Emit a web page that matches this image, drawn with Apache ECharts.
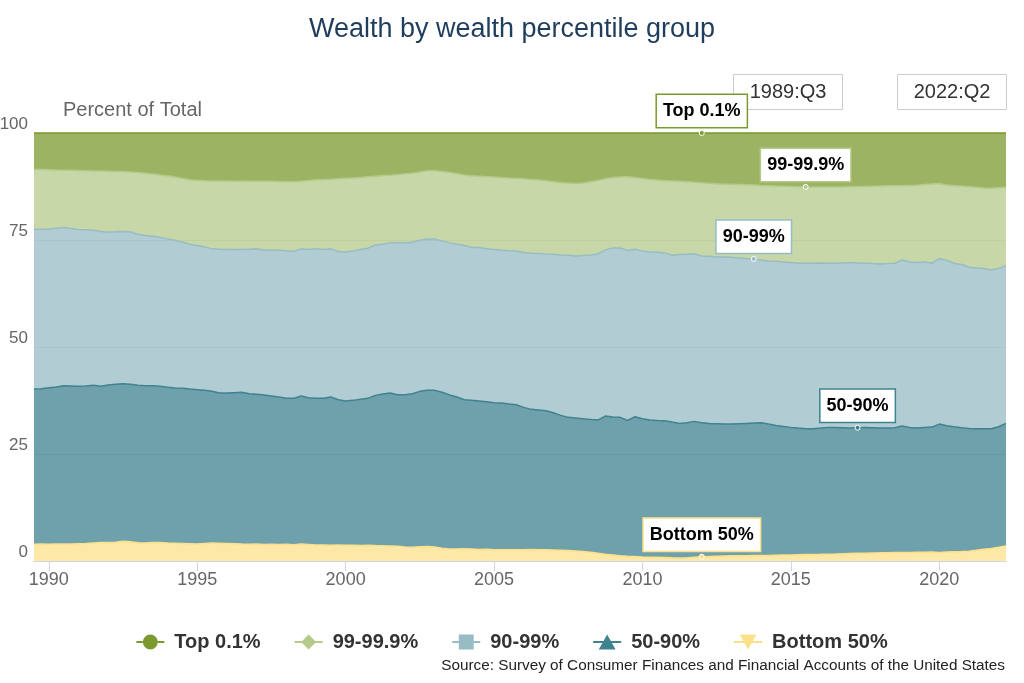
<!DOCTYPE html>
<html>
<head>
<meta charset="utf-8">
<script src="https://cdn.jsdelivr.net/npm/echarts@6.0.0/dist/echarts.min.js"></script>
<style>html,body{margin:0;padding:0;background:#fff}#c{width:1024px;height:683px}</style>
</head>
<body>
<div id="c"></div>
<script>
// Quarterly categories 1989:Q3 .. 2022:Q2
const quarters = [];
for (let y = 1989; y <= 2022; y++) {
  for (let q = 1; q <= 4; q++) {
    if ((y === 1989 && q < 3) || (y === 2022 && q > 2)) continue;
    quarters.push(y + ':Q' + q);
  }
}

const bottom50 = [
  3.9, 3.95, 3.9, 3.95, 4.0, 4.0, 4.05, 4.1, 4.2, 4.3,
  4.35, 4.4, 4.6, 4.5, 4.25, 4.2, 4.3, 4.3, 4.2, 4.15,
  4.1, 4.05, 4.0, 4.1, 4.2, 4.15, 4.1, 4.05, 3.95, 3.9,
  3.95, 3.85, 3.9, 3.85, 3.9, 3.8, 3.95, 3.85, 3.75, 3.75,
  3.7, 3.75, 3.7, 3.7, 3.65, 3.7, 3.6, 3.55, 3.5, 3.45,
  3.3, 3.2, 3.35, 3.4, 3.3, 3.0, 2.8, 2.8, 2.85, 2.8,
  2.7, 2.75, 2.65, 2.6, 2.6, 2.65, 2.65, 2.7, 2.65, 2.6,
  2.55, 2.5, 2.45, 2.35, 2.2, 2.05, 1.8, 1.55, 1.4, 1.2,
  1.1, 1.05, 0.95, 0.9, 0.85, 0.8, 0.75, 0.72, 0.75, 0.9,
  1.0, 1.05, 1.1, 1.15, 1.2, 1.2, 1.25, 1.28, 1.3, 1.3,
  1.35, 1.38, 1.4, 1.45, 1.5, 1.52, 1.55, 1.6, 1.62, 1.7,
  1.75, 1.8, 1.83, 1.88, 1.9, 1.95, 1.98, 2.0, 2.0, 2.05,
  2.05, 2.08, 2.0, 2.1, 2.15, 2.2, 2.3, 2.5, 2.75, 2.95,
  3.2, 3.5
];

const p50to90 = [
  36.28, 36.31, 36.60, 36.70, 36.96, 36.89, 36.76, 36.79, 36.84, 36.51,
  36.77, 36.88, 36.83, 36.78, 36.79, 36.76, 36.66, 36.51, 36.37, 36.27,
  36.24, 36.13, 36.03, 35.77, 35.44, 35.10, 35.15, 35.28, 35.46, 35.19,
  34.99, 34.93, 34.65, 34.46, 34.10, 34.20, 34.60, 34.31, 34.25, 34.25,
  34.61, 33.94, 33.68, 33.83, 34.12, 34.30, 35.10, 35.47, 35.75, 35.41,
  35.56, 35.89, 36.29, 36.47, 36.57, 36.41, 35.98, 35.51, 34.84, 34.73,
  34.68, 34.47, 34.34, 34.31, 34.08, 33.87, 33.24, 32.73, 32.62, 32.51,
  32.10, 31.52, 31.11, 31.05, 31.04, 31.04, 31.13, 32.32, 32.23, 32.36,
  31.75, 32.66, 32.29, 32.03, 32.00, 31.98, 31.71, 31.43, 31.56, 31.72,
  31.31, 31.10, 30.97, 30.84, 30.79, 30.87, 30.90, 30.95, 31.01, 30.69,
  30.33, 30.07, 29.82, 29.61, 29.41, 29.39, 29.51, 29.62, 29.60, 29.44,
  29.31, 29.34, 29.39, 29.26, 29.16, 29.11, 29.16, 29.53, 29.22, 29.01,
  29.17, 29.21, 29.99, 29.51, 29.22, 28.94, 28.68, 28.41, 28.16, 27.96,
  28.17, 28.65
];

const p90to99 = [
  37.27, 37.27, 37.03, 37.11, 36.96, 36.79, 36.64, 36.48, 36.25, 36.17,
  35.70, 35.62, 35.55, 35.62, 35.32, 35.08, 34.93, 34.77, 34.69, 34.53,
  34.15, 33.84, 33.68, 33.52, 33.29, 33.60, 33.52, 33.44, 33.36, 33.76,
  33.99, 33.83, 34.06, 34.30, 34.46, 34.30, 34.38, 34.61, 34.93, 34.77,
  34.62, 34.61, 34.77, 34.93, 35.00, 35.08, 35.16, 35.00, 35.08, 35.47,
  35.47, 35.40, 35.31, 35.39, 35.39, 35.39, 35.55, 35.71, 36.02, 35.71,
  35.86, 35.71, 35.78, 35.70, 35.78, 35.93, 36.18, 36.48, 36.56, 36.64,
  37.03, 37.50, 37.88, 37.89, 38.13, 38.43, 38.82, 38.82, 39.53, 39.60,
  39.68, 39.14, 39.22, 39.29, 39.29, 39.21, 38.98, 39.45, 39.37, 39.13,
  38.98, 39.06, 38.98, 39.06, 38.99, 38.75, 38.51, 38.36, 38.04, 38.13,
  38.36, 38.43, 38.51, 38.51, 38.66, 38.66, 38.59, 38.35, 38.35, 38.51,
  38.67, 38.51, 38.35, 38.35, 38.36, 38.43, 38.43, 38.82, 38.66, 38.67,
  38.66, 38.28, 38.67, 38.59, 38.20, 38.12, 37.66, 37.57, 37.41, 37.10,
  36.95, 36.80
];

const p99to999 = [
  14.05, 13.92, 13.87, 13.59, 13.38, 13.62, 13.80, 13.83, 13.86, 14.12,
  14.23, 14.10, 14.02, 14.00, 14.39, 14.56, 14.51, 14.62, 14.74, 14.75,
  14.91, 15.08, 15.24, 15.46, 15.87, 15.95, 16.03, 15.98, 16.03, 15.90,
  15.82, 16.09, 16.09, 16.04, 16.14, 16.30, 15.82, 16.13, 16.17, 16.33,
  16.27, 17.00, 17.25, 17.04, 16.83, 16.67, 16.04, 16.03, 15.82, 15.97,
  16.12, 16.11, 15.95, 15.94, 15.99, 16.20, 16.47, 16.48, 16.49, 16.76,
  16.66, 16.87, 16.93, 16.99, 17.04, 17.00, 17.23, 17.24, 17.17, 17.10,
  16.92, 16.88, 16.86, 16.91, 16.93, 17.08, 17.15, 16.61, 16.44, 16.54,
  17.27, 16.75, 16.89, 16.93, 16.86, 16.86, 17.36, 17.10, 16.92, 16.75,
  17.11, 17.04, 17.10, 17.00, 17.02, 17.13, 17.24, 17.26, 17.40, 17.58,
  17.56, 17.67, 17.77, 17.88, 17.83, 17.83, 17.75, 17.83, 17.83, 17.75,
  17.72, 17.85, 17.93, 18.06, 18.18, 18.16, 18.13, 17.35, 17.87, 18.07,
  18.07, 18.53, 17.54, 17.65, 18.13, 18.34, 18.81, 18.82, 18.83, 19.09,
  18.88, 18.35
];

const top01 = [
  8.5, 8.55, 8.6, 8.65, 8.7, 8.7, 8.75, 8.8, 8.85, 8.9,
  8.95, 9.0, 9.0, 9.1, 9.25, 9.4, 9.6, 9.8, 10.0, 10.3,
  10.6, 10.9, 11.05, 11.15, 11.2, 11.2, 11.2, 11.25, 11.2, 11.25,
  11.25, 11.3, 11.3, 11.35, 11.4, 11.4, 11.25, 11.1, 10.9, 10.9,
  10.8, 10.7, 10.6, 10.5, 10.4, 10.25, 10.1, 9.95, 9.85, 9.7,
  9.55, 9.4, 9.1, 8.8, 8.75, 9.0, 9.2, 9.5, 9.8, 10.0,
  10.1, 10.2, 10.3, 10.4, 10.5, 10.55, 10.7, 10.85, 11.0, 11.15,
  11.4, 11.6, 11.7, 11.8, 11.7, 11.4, 11.1, 10.7, 10.4, 10.3,
  10.2, 10.4, 10.65, 10.85, 11.0, 11.15, 11.2, 11.3, 11.4, 11.5,
  11.6, 11.75, 11.85, 11.95, 12.0, 12.05, 12.1, 12.15, 12.25, 12.3,
  12.4, 12.45, 12.5, 12.55, 12.6, 12.6, 12.6, 12.6, 12.6, 12.6,
  12.55, 12.5, 12.5, 12.45, 12.4, 12.35, 12.3, 12.3, 12.25, 12.2,
  12.05, 11.9, 11.8, 12.15, 12.3, 12.4, 12.55, 12.7, 12.85, 12.9,
  12.8, 12.7
];

// Stack order (bottom -> top)
const seriesNames = ['Bottom 50%', '50-90%', '90-99%', '99-99.9%', 'Top 0.1%'];
const seriesValues = [bottom50, p50to90, p90to99, p99to999, top01];
const seriesColors = ['#fde08a', '#3f8290', '#97bcc4', '#b4c98a', '#7a9a2e'];
const calloutAt = ['2012:Q1', '2017:Q2', '2013:Q4', '2015:Q3', '2012:Q1'];
const legendOrder = ['Top 0.1%', '99-99.9%', '90-99%', '50-90%', 'Bottom 50%'];
const yTicks = { min: 0, max: 100, step: 25 };
const titleText = 'Wealth by wealth percentile group';
const yTitle = 'Percent of Total';
const sourceText = 'Source: Survey of Consumer Finances and Financial Accounts of the United States';

const FONT = '"Liberation Sans", Arial, Helvetica, sans-serif';
const legendIcons = {
  'Top 0.1%': 'path://M0,9H7V11H0Z M23,9H30V11H23Z M7,10A8,8 0 1 1 23,10A8,8 0 1 1 7,10Z',
  '99-99.9%': 'path://M0,9H8V11H0Z M22,9H30V11H22Z M15,2L23,10L15,18L7,10Z',
  '90-99%': 'path://M0,9H7V11H0Z M23,9H30V11H23Z M7,2H23V18H7Z',
  '50-90%': 'path://M0,9H11V11H0Z M19,9H30V11H19Z M15,2L24,18L6,18Z',
  'Bottom 50%': 'path://M0,9H11V11H0Z M19,9H30V11H19Z M6,2L24,2L15,18Z'
};

const isFiveYear = (idx, val) => val.endsWith(':Q1') && (+val.slice(0, 4)) % 5 === 0;

const chart = echarts.init(document.getElementById('c'), null, { renderer: 'canvas' });

const option = {
  animation: false,
  backgroundColor: '#fff',
  textStyle: { fontFamily: FONT },
  title: {
    text: titleText, left: 'center', top: 11,
    textStyle: { color: '#1f3d5c', fontSize: 27, fontWeight: 'normal', fontFamily: FONT }
  },
  grid: { left: 34, right: 18, top: 133, bottom: 122, containLabel: false, outerBoundsMode: 'none' },
  legend: {
    left: 'center', top: 627, itemWidth: 28, itemHeight: 16, itemGap: 34,
    selectedMode: false,
    textStyle: { fontSize: 20, fontWeight: 'bold', color: '#333', fontFamily: FONT, padding: [0, 0, 0, 5] },
    data: legendOrder.map(n => ({ name: n, icon: legendIcons[n] }))
  },
  xAxis: {
    type: 'category', data: quarters, boundaryGap: false,
    axisLine: { show: true, lineStyle: { color: '#ccd6eb', width: 1 } },
    axisTick: { show: true, length: 10, interval: isFiveYear, lineStyle: { color: '#ccd6eb', width: 1 } },
    axisLabel: { interval: isFiveYear, formatter: v => v.slice(0, 4), color: '#666', fontSize: 18, margin: 10, fontFamily: FONT },
    splitLine: { show: false }
  },
  yAxis: {
    type: 'value', min: yTicks.min, max: yTicks.max, interval: yTicks.step,
    axisLine: { show: false }, axisTick: { show: false },
    axisLabel: { color: '#666', fontSize: 17, margin: 6, verticalAlign: 'bottom', fontFamily: FONT },
    splitLine: { show: true, lineStyle: { color: '#e0e0e0', width: 1 } }
  },
  graphic: [
    { type: 'text', z: 0, x: 63, y: 110, style: { text: yTitle, fill: '#666', fontSize: 20, fontFamily: FONT, align: 'left', verticalAlign: 'middle' } },
    { type: 'rect', z: 0, shape: { x: 733.5, y: 74.5, width: 109, height: 35 }, style: { fill: '#fff', stroke: '#cccccc', lineWidth: 1 } },
    { type: 'text', z: 0, x: 788, y: 92, style: { text: quarters[0], fill: '#333', fontSize: 20, fontFamily: FONT, align: 'center', verticalAlign: 'middle' } },
    { type: 'rect', z: 0, shape: { x: 897.5, y: 74.5, width: 109, height: 35 }, style: { fill: '#fff', stroke: '#cccccc', lineWidth: 1 } },
    { type: 'text', z: 0, x: 952, y: 92, style: { text: quarters[quarters.length - 1], fill: '#333', fontSize: 20, fontFamily: FONT, align: 'center', verticalAlign: 'middle' } },
    { type: 'text', z: 0, x: 1005, y: 666, style: { text: sourceText, fill: '#222', fontSize: 15.3, fontFamily: FONT, align: 'right', verticalAlign: 'middle' } }
  ],
  series: seriesNames.map((name, s) => ({
    name: name,
    type: 'line',
    stack: 'total',
    symbol: 'none',
    showSymbol: true,
    showAllSymbol: true,
    clip: false,
    z: 10 - s,
    emphasis: { disabled: true },
    lineStyle: { width: 1.5, color: seriesColors[s] },
    itemStyle: { color: seriesColors[s] },
    areaStyle: { color: seriesColors[s], opacity: 0.75 },
    data: seriesValues[s].map((v, i) => quarters[i] === calloutAt[s] ? {
      value: v,
      symbol: 'circle',
      symbolSize: 5,
      itemStyle: { color: seriesColors[s], borderColor: '#ffffff', borderWidth: 1 },
      label: {
        show: true, position: 'top', distance: 3, formatter: name,
        color: '#000', fontSize: 18, fontWeight: 'bold', fontFamily: FONT,
        backgroundColor: '#fff', borderColor: seriesColors[s], borderWidth: 1.5,
        padding: [7, 6, 7, 6]
      }
    } : v)
  }))
};

chart.setOption(option);
</script>
</body>
</html>
